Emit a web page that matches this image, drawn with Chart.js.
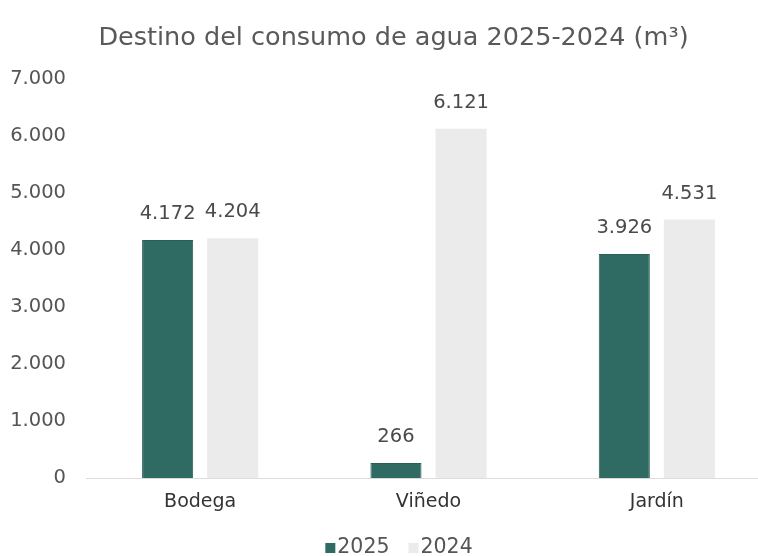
<!DOCTYPE html>
<html lang="es">
<head>
<meta charset="utf-8">
<title>Destino del consumo de agua</title>
<script src="https://cdn.jsdelivr.net/npm/chart.js@4.4.1/dist/chart.umd.min.js"></script>
<style>
  html, body { margin: 0; padding: 0; background: #fff; overflow: hidden; }
  #wrap { width: 758px; height: 556px; overflow: hidden; }
</style>
</head>
<body>
<div id="wrap"><canvas id="waterChart" width="790" height="556"></canvas></div>
<script>
// Datos (m3)
const categories = ['Bodega', 'Viñedo', 'Jardín'];
const values2025 = [4172, 266, 3926];
const values2024 = [4204, 6121, 4531];
const seriesLabels = ['2025', '2024'];
const yTicks = [0, 1000, 2000, 3000, 4000, 5000, 6000, 7000];

const FONT = "'DejaVu Sans', Verdana, sans-serif";
const TEXT_COLOR = '#555555';

// 4172 -> "4.172"
function fmt(v) {
    return String(v).replace(/\B(?=(\d{3})+(?!\d))/g, '.');
}

// Etiquetas de valor encima de cada barra
const valueLabels = {
    id: 'valueLabels',
    afterLayout(chart) {
        // centrar el titulo un poco mas a la derecha
        if (chart.titleBlock) chart.titleBlock.left += 16;
    },
    afterDatasetsDraw(chart) {
        const ctx = chart.ctx;
        ctx.save();
        ctx.font = '19.5px ' + FONT;
        ctx.fillStyle = '#4a4a4a';
        ctx.textAlign = 'center';
        ctx.textBaseline = 'middle';
        chart.data.datasets.forEach((ds, i) => {
            chart.getDatasetMeta(i).data.forEach((bar, j) => {
                ctx.fillText(fmt(ds.data[j]), bar.x, bar.y - 26);
            });
        });
        ctx.restore();
    }
};

// Leyenda compacta abajo (cuadro pegado al texto)
const bottomLegend = {
    id: 'bottomLegend',
    afterDraw(chart) {
        const ctx = chart.ctx;
        const box = 10, gap = 2, spacing = 19;
        ctx.save();
        ctx.font = '20.5px ' + FONT;
        ctx.textBaseline = 'middle';
        const items = chart.data.datasets.map(ds => ({
            text: ds.label,
            color: ds.backgroundColor,
            w: box + gap + ctx.measureText(ds.label).width
        }));
        const total = items.reduce((s, it) => s + it.w, 0) + spacing * (items.length - 1);
        let x = chart.width / 2 + 4 - total / 2;
        const y = 548;
        items.forEach(it => {
            ctx.fillStyle = it.color;
            ctx.fillRect(x, y - box / 2, box, box);
            ctx.fillStyle = TEXT_COLOR;
            ctx.fillText(it.text, x + box + gap, y);
            x += it.w + spacing;
        });
        ctx.restore();
    }
};

new Chart(document.getElementById('waterChart'), {
    type: 'bar',
    data: {
        labels: categories,
        datasets: [
            {
                label: seriesLabels[0],
                data: values2025,
                backgroundColor: '#2f6b62',
                borderColor: '#2a5f57',
                borderWidth: 1
            },
            {
                label: seriesLabels[1],
                data: values2024,
                backgroundColor: '#ebebeb',
                borderWidth: 0
            }
        ]
    },
    options: {
        responsive: false,
        animation: false,
        categoryPercentage: 0.57,
        barPercentage: 0.785,
        layout: { padding: { left: 0, right: 19, top: 0, bottom: 39 } },
        plugins: {
            title: {
                display: true,
                text: 'Destino del consumo de agua 2025-2024 (m³)',
                color: '#595959',
                font: { family: FONT, size: 25.5, weight: 'normal' },
                padding: { top: 23, bottom: 25 }
            },
            legend: { display: false },
            tooltip: { enabled: false }
        },
        scales: {
            x: {
                grid: { display: false },
                border: { display: true, color: '#dcdcdc', width: 1 },
                ticks: {
                    color: '#333333',
                    font: { family: FONT, size: 19 },
                    padding: 4
                }
            },
            y: {
                min: 0,
                max: 7000,
                afterBuildTicks: (scale) => {
                    scale.ticks = yTicks.map(v => ({ value: v }));
                },
                afterFit: (scale) => { scale.width = 86; },
                grid: { display: false },
                border: { display: false },
                ticks: {
                    color: TEXT_COLOR,
                    font: { family: FONT, size: 19.5 },
                    padding: 12,
                    callback: (v) => fmt(v)
                }
            }
        }
    },
    plugins: [valueLabels, bottomLegend]
});
</script>
</body>
</html>
